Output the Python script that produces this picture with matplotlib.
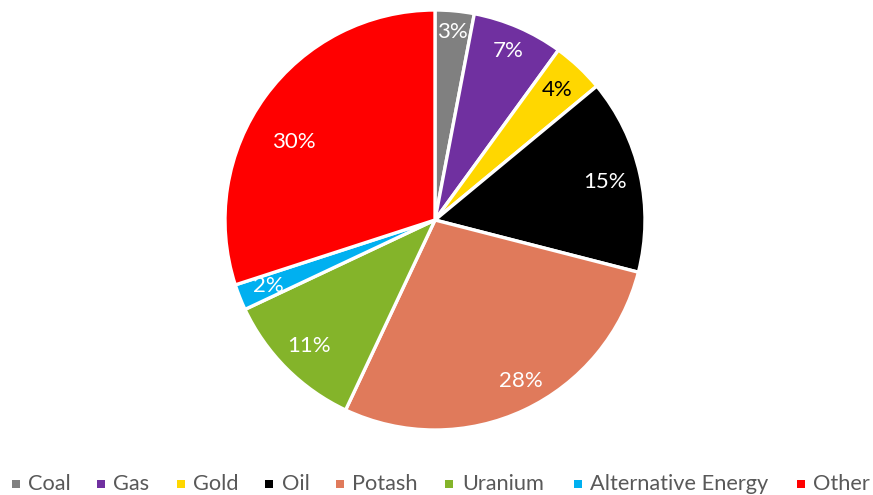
import matplotlib
matplotlib.use("Agg")
import matplotlib.pyplot as plt
import numpy as np

categories = ["Coal", "Gas", "Gold", "Oil", "Potash", "Uranium", "Alternative Energy", "Other"]
shares = [3, 7, 4, 15, 28, 11, 2, 30]
colors = ["#808080", "#7030A0", "#FFD700", "#000000", "#E07A5B", "#84B42A", "#00B0F0", "#FF0000"]
label_colors = ["white", "white", "black", "white", "white", "white", "white", "white"]
# placement of each percentage label: fraction of radius, and angular nudge in degrees
label_radius = [0.90, 0.875, 0.85, 0.83, 0.87, 0.85, 0.855, 0.77]
label_nudge = [0, 0, 0, 0, 3, 0, 0, 7]

plt.rcParams["font.family"] = ["Lato", "DejaVu Sans"]

W, H = 873, 495
fig = plt.figure(figsize=(W / 100, H / 100), dpi=100)
ax = fig.add_axes([225 / W, 65 / H, 420 / W, 420 / H])

wedges, texts, autotexts = ax.pie(
    shares, colors=colors, startangle=90, counterclock=False, radius=1.0,
    autopct=lambda p: f"{p:.0f}%", pctdistance=0.86,
    wedgeprops=dict(edgecolor="white", linewidth=2.4),
    textprops=dict(fontsize=16),
)
for w, t, c, r, d in zip(wedges, autotexts, label_colors, label_radius, label_nudge):
    mid = np.deg2rad((w.theta1 + w.theta2) / 2 + d)
    t.set_position((r * np.cos(mid), r * np.sin(mid)))
    t.set_color(c)
ax.set_xlim(-1, 1)
ax.set_ylim(-1, 1)
ax.set_aspect("equal")

# legend row along the bottom: square swatch followed by its name
swatch_x = [12, 97, 177, 265, 336, 445, 574, 797]
text_x = [28, 113, 193, 282, 352, 462, 590, 813]
leg_y = 1 - 484 / H
for sx, tx, name, c in zip(swatch_x, text_x, categories, colors):
    fig.patches.append(plt.Rectangle((sx / W, (495 - 488) / H), 8 / W, 8 / H,
                                     transform=fig.transFigure, facecolor=c,
                                     edgecolor="none"))
    fig.text(tx / W, leg_y, name, fontsize=15.7, color="#595959",
             ha="left", va="center")

fig.savefig("out.png", dpi=100)
